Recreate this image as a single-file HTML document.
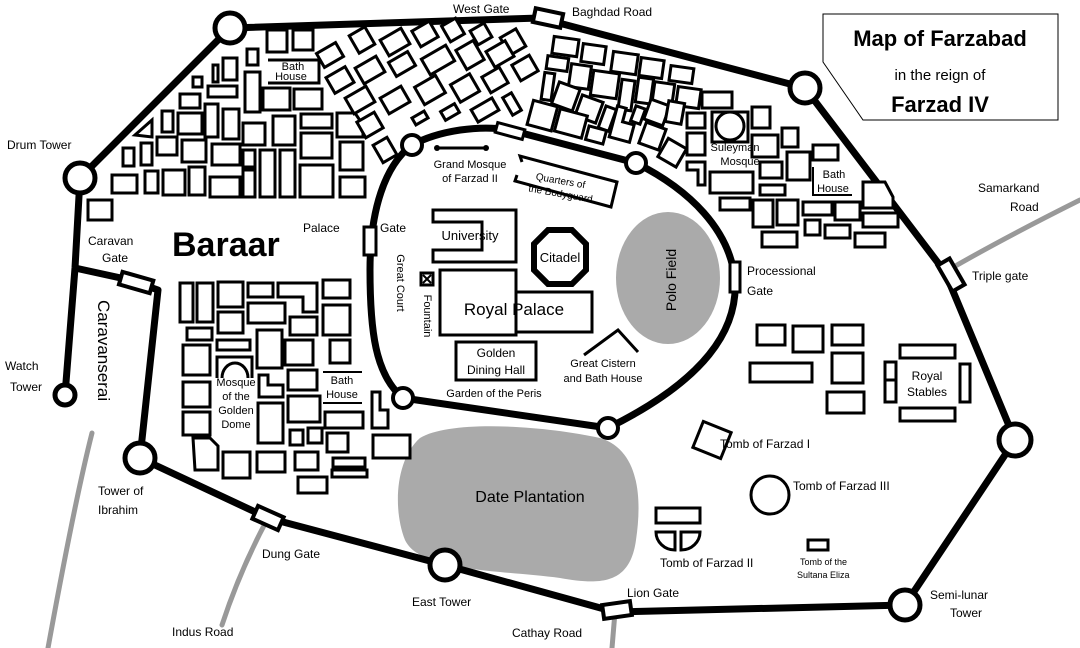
<!DOCTYPE html>
<html><head><meta charset="utf-8"><style>
html,body{margin:0;padding:0;background:#fff}
svg{display:block}
text{font-family:"Liberation Sans",sans-serif;fill:#000}
.b rect,.b path,.b polygon{fill:#fff;stroke:#000;stroke-width:3}
.s{font-size:11px}
.m{font-size:12px}
</style></head><body>
<svg width="1080" height="648" viewBox="0 0 1080 648" xmlns="http://www.w3.org/2000/svg">
<rect width="1080" height="648" fill="#fff"/>
<g stroke="#999" stroke-width="5" fill="none" stroke-linecap="round">
<path d="M945,272 Q1000,240 1080,200"/>
<path d="M268,518 Q240,570 222,625"/>
<path d="M615,612 L612,648"/>
<path d="M92,433 Q75,500 48,648"/>
</g>
<ellipse cx="668" cy="278" rx="52" ry="66" fill="#aaa"/>
<path d="M420,438 C450,420 540,425 600,438 C640,450 642,500 636,540 C630,585 600,585 560,578 C500,570 420,572 405,540 C393,510 395,460 420,438Z" fill="#aaa"/>
<path d="M823,14 H1058 V120 H863 L823,62 Z" fill="#fff" stroke="#000" stroke-width="1"/>
<text x="940" y="46" text-anchor="middle" font-size="22" font-weight="bold">Map of Farzabad</text>
<text x="940" y="80" text-anchor="middle" font-size="15">in the reign of</text>
<text x="940" y="112" text-anchor="middle" font-size="22" font-weight="bold">Farzad IV</text>
<g stroke="#000" stroke-width="7" fill="none" stroke-linejoin="round">
<path d="M80,178 L230,28 L540,18 L805,88 L945,272 L1015,440 L905,605 L615,612 L445,565 L268,518 L140,458 L158,290 L130,280 L75,268"/>
<path d="M80,178 L75,268 L65,395"/>
</g>
<g fill="#fff" stroke="#000" stroke-width="4">
<rect x="534" y="11" width="28" height="14" transform="rotate(12 548 18)"/>
<rect x="120" y="276" width="32" height="13" transform="rotate(16 136 283)"/>
<rect x="944" y="260" width="14" height="30" transform="rotate(-30 951 275)"/>
<rect x="603" y="603" width="28" height="14" transform="rotate(-8 617 610)"/>
<rect x="254" y="511" width="28" height="14" transform="rotate(24 268 518)"/>
</g>
<g fill="#fff" stroke="#000" stroke-width="5">
<circle cx="230" cy="28" r="15"/>
<circle cx="80" cy="178" r="15"/>
<circle cx="65" cy="395" r="10"/>
<circle cx="140" cy="458" r="15"/>
<circle cx="445" cy="565" r="15"/>
<circle cx="905" cy="605" r="15"/>
<circle cx="1015" cy="440" r="16"/>
<circle cx="805" cy="88" r="15"/>
</g>
<path d="M412,145 C440,130 480,125 510,130 L636,163 C690,190 730,230 735,280 C738,330 705,380 608,428 L403,398 C375,375 370,330 370,270 C370,210 385,165 412,145Z" fill="none" stroke="#000" stroke-width="7"/>
<g fill="#fff" stroke="#000" stroke-width="3">
<rect x="496" y="126" width="28" height="10" transform="rotate(15 510 131)"/>
<rect x="364" y="227" width="12" height="28"/>
<rect x="730" y="262" width="10" height="30"/>
</g>
<g fill="#fff" stroke="#000" stroke-width="4">
<circle cx="412" cy="145" r="10"/>
<circle cx="636" cy="163" r="10"/>
<circle cx="608" cy="428" r="10"/>
<circle cx="403" cy="398" r="10"/>
</g>
<g class="b">
<rect x="267" y="30" width="20" height="22"/><rect x="293" y="30" width="20" height="20"/>
<rect x="247" y="49" width="11" height="16"/><rect x="223" y="58" width="14" height="22"/>
<rect x="213" y="65" width="5" height="17"/><rect x="193" y="77" width="9" height="10"/>
<rect x="208" y="86" width="29" height="11"/><rect x="245" y="72" width="15" height="40"/>
<rect x="263" y="88" width="27" height="22"/><rect x="294" y="89" width="28" height="20"/>
<rect x="180" y="94" width="20" height="14"/><rect x="205" y="104" width="13" height="33"/>
<rect x="223" y="109" width="16" height="30"/><rect x="178" y="113" width="24" height="21"/>
<rect x="162" y="111" width="11" height="21"/><polygon points="135,135 152,120 152,137"/>
<rect x="243" y="123" width="22" height="22"/><rect x="273" y="116" width="22" height="29"/>
<rect x="301" y="114" width="31" height="14"/><polygon points="337,113 355,113 363,125 363,137 337,137"/>
<rect x="301" y="133" width="31" height="25"/><rect x="157" y="137" width="20" height="18"/>
<rect x="182" y="140" width="24" height="22"/><rect x="212" y="144" width="28" height="21"/>
<rect x="243" y="150" width="12" height="17"/><rect x="141" y="143" width="11" height="22"/>
<rect x="123" y="148" width="11" height="18"/><rect x="260" y="150" width="15" height="47"/>
<rect x="280" y="150" width="15" height="47"/><rect x="300" y="165" width="33" height="32"/>
<rect x="340" y="142" width="23" height="28"/><rect x="340" y="177" width="25" height="20"/>
<rect x="112" y="175" width="25" height="18"/><rect x="145" y="171" width="13" height="22"/>
<rect x="163" y="170" width="22" height="25"/><rect x="189" y="167" width="16" height="28"/>
<rect x="210" y="177" width="30" height="20"/><rect x="243" y="170" width="12" height="27"/>
<rect x="88" y="200" width="24" height="20"/>
</g>
<path d="M268,60 H319 V83 H268" fill="none" stroke="#000" stroke-width="3"/>
<text x="293" y="70" text-anchor="middle" class="s">Bath</text>
<text x="291" y="80" text-anchor="middle" class="s">House</text>
<g class="b">
<rect x="-11" y="-8" width="22" height="16" transform="translate(330,55) rotate(-30)"/>
<rect x="-9" y="-10" width="18" height="20" transform="translate(362,40) rotate(-30)"/>
<rect x="-12" y="-9" width="24" height="18" transform="translate(395,42) rotate(-30)"/>
<rect x="-10" y="-9" width="20" height="18" transform="translate(425,34) rotate(-30)"/>
<rect x="-8" y="-9" width="16" height="18" transform="translate(453,30) rotate(-30)"/>
<rect x="-8" y="-8" width="16" height="16" transform="translate(481,34) rotate(-30)"/>
<rect x="-9" y="-10" width="18" height="20" transform="translate(513,42) rotate(-30)"/>
<rect x="-11" y="-9" width="22" height="18" transform="translate(340,80) rotate(-30)"/>
<rect x="-12" y="-9" width="24" height="18" transform="translate(370,70) rotate(-30)"/>
<rect x="-11" y="-8" width="22" height="16" transform="translate(402,64) rotate(-30)"/>
<rect x="-14" y="-9" width="28" height="18" transform="translate(438,60) rotate(-30)"/>
<rect x="-10" y="-11" width="20" height="22" transform="translate(470,55) rotate(-30)"/>
<rect x="-11" y="-9" width="22" height="18" transform="translate(500,54) rotate(-30)"/>
<rect x="-10" y="-9" width="20" height="18" transform="translate(525,68) rotate(-30)"/>
<rect x="-12" y="-9" width="24" height="18" transform="translate(360,100) rotate(-30)"/>
<rect x="-12" y="-9" width="24" height="18" transform="translate(395,100) rotate(-30)"/>
<rect x="-12" y="-10" width="24" height="20" transform="translate(430,90) rotate(-30)"/>
<rect x="-11" y="-10" width="22" height="20" transform="translate(465,88) rotate(-30)"/>
<rect x="-10" y="-9" width="20" height="18" transform="translate(495,80) rotate(-30)"/>
<rect x="-10" y="-9" width="20" height="18" transform="translate(370,125) rotate(-30)"/>
<rect x="-7" y="-4" width="14" height="8" transform="translate(420,118) rotate(-30)"/>
<rect x="-8" y="-5" width="16" height="10" transform="translate(450,112) rotate(-30)"/>
<rect x="-12" y="-7" width="24" height="14" transform="translate(485,110) rotate(-30)"/>
<rect x="-5" y="-10" width="10" height="20" transform="translate(512,104) rotate(-30)"/>
<rect x="-8" y="-10" width="16" height="20" transform="translate(385,150) rotate(-30)"/>
</g>
<g class="b">
<rect x="553" y="38" width="25" height="17" transform="rotate(8 565 46)"/>
<rect x="582" y="45" width="23" height="18" transform="rotate(8 593 54)"/>
<rect x="612" y="53" width="25" height="20" transform="rotate(8 624 63)"/>
<rect x="640" y="59" width="23" height="18" transform="rotate(8 651 68)"/>
<rect x="670" y="67" width="23" height="15" transform="rotate(8 681 74)"/>
<rect x="547" y="57" width="21" height="13" transform="rotate(8 557 63)"/>
<rect x="570" y="65" width="20" height="23" transform="rotate(8 580 76)"/>
<rect x="592" y="72" width="26" height="25" transform="rotate(8 605 84)"/>
<rect x="620" y="80" width="13" height="30" transform="rotate(8 626 95)"/>
<rect x="637" y="78" width="15" height="25" transform="rotate(8 644 90)"/>
<rect x="653" y="83" width="20" height="27" transform="rotate(8 663 96)"/>
<rect x="677" y="88" width="23" height="19" transform="rotate(8 688 97)"/>
<rect x="702" y="92" width="30" height="16"/>
<rect x="543" y="73" width="10" height="27" transform="rotate(8 548 86)"/>
<rect x="555" y="85" width="22" height="23" transform="rotate(20 566 96)"/>
<rect x="578" y="98" width="22" height="22" transform="rotate(20 589 109)"/>
<rect x="602" y="107" width="11" height="23" transform="rotate(20 607 118)"/>
<path d="M613,108 H622 V122 H634 V140 H613Z" transform="rotate(15 623 124)"/>
<rect x="633" y="107" width="10" height="16" transform="rotate(20 638 115)"/>
<rect x="647" y="102" width="20" height="21" transform="rotate(20 657 112)"/>
<rect x="667" y="102" width="16" height="21" transform="rotate(10 675 112)"/>
<rect x="530" y="103" width="25" height="25" transform="rotate(15 542 115)"/>
<rect x="557" y="112" width="28" height="23" transform="rotate(15 571 123)"/>
<rect x="587" y="128" width="18" height="14" transform="rotate(15 596 135)"/>
<rect x="642" y="125" width="21" height="22" transform="rotate(20 652 136)"/>
<rect x="662" y="142" width="21" height="21" transform="rotate(30 672 152)"/>
<rect x="687" y="113" width="18" height="15"/>
<rect x="712" y="112" width="36" height="30"/>
<rect x="752" y="107" width="18" height="21"/>
<rect x="687" y="133" width="18" height="22"/>
<rect x="752" y="135" width="26" height="22"/>
<rect x="782" y="128" width="16" height="19"/>
<path d="M687,162 H705 V185 H698 V170 H687Z"/>
<rect x="710" y="172" width="43" height="21"/>
<rect x="760" y="162" width="22" height="16"/>
<rect x="787" y="152" width="23" height="28"/>
<rect x="813" y="145" width="25" height="15"/>
<rect x="760" y="185" width="25" height="10"/>
<rect x="720" y="198" width="30" height="12"/>
<rect x="753" y="200" width="20" height="27"/>
<rect x="777" y="200" width="21" height="25"/>
<rect x="803" y="202" width="29" height="13"/>
<rect x="835" y="202" width="25" height="18"/>
<polygon points="863,182 885,182 893,197 893,208 863,208"/>
<rect x="805" y="220" width="15" height="15"/>
<rect x="825" y="225" width="25" height="13"/>
<rect x="863" y="213" width="35" height="14"/>
<rect x="762" y="232" width="35" height="15"/>
<rect x="855" y="233" width="30" height="14"/>
</g>
<circle cx="730" cy="126" r="14" fill="#fff" stroke="#000" stroke-width="3"/>
<text x="735" y="151" text-anchor="middle" class="s">Suleyman</text>
<text x="740" y="165" text-anchor="middle" class="s">Mosque</text>
<path d="M813,167 V195 H852" fill="none" stroke="#000" stroke-width="2"/>
<text x="834" y="178" text-anchor="middle" class="s">Bath</text>
<text x="833" y="192" text-anchor="middle" class="s">House</text>
<g class="b">
<rect x="180" y="283" width="13" height="39"/><rect x="197" y="283" width="16" height="39"/>
<rect x="218" y="282" width="25" height="25"/><rect x="248" y="283" width="25" height="14"/>
<path d="M278,283 H317 V312 H303 V297 H278Z"/><rect x="323" y="280" width="27" height="18"/>
<rect x="248" y="303" width="37" height="20"/><rect x="218" y="312" width="25" height="21"/>
<rect x="290" y="317" width="27" height="18"/><rect x="323" y="305" width="27" height="30"/>
<rect x="187" y="328" width="25" height="12"/><rect x="217" y="340" width="33" height="10"/>
<rect x="257" y="330" width="25" height="38"/><rect x="285" y="340" width="28" height="25"/>
<rect x="330" y="340" width="20" height="23"/><rect x="183" y="345" width="27" height="30"/>
<path d="M259,375 H268 V385 H283 V397 H259Z"/><rect x="288" y="370" width="29" height="20"/>
<rect x="183" y="382" width="27" height="25"/><path d="M372,392 H380 V410 H388 V428 H372Z"/>
<rect x="258" y="403" width="25" height="40"/><rect x="288" y="396" width="32" height="26"/>
<rect x="325" y="412" width="38" height="16"/><rect x="183" y="412" width="27" height="23"/>
<rect x="290" y="430" width="13" height="15"/><rect x="308" y="428" width="14" height="15"/>
<rect x="327" y="433" width="21" height="19"/><rect x="373" y="435" width="37" height="23"/>
<polygon points="193,438 210,438 218,446 218,470 195,470"/>
<rect x="223" y="452" width="27" height="26"/><rect x="257" y="452" width="28" height="20"/>
<rect x="295" y="452" width="23" height="18"/><rect x="333" y="458" width="32" height="9"/>
<rect x="332" y="470" width="35" height="7"/><rect x="298" y="477" width="29" height="16"/>
</g>
<path d="M217,378 V357 H252 V378 M222,378 A13,15 0 0 1 248,378" fill="#fff" stroke="#000" stroke-width="3"/>
<path d="M323,372 H362 M323,403 H362" stroke="#000" stroke-width="2"/>
<text x="342" y="384" text-anchor="middle" class="s">Bath</text>
<text x="342" y="398" text-anchor="middle" class="s">House</text>
<text x="236" y="386" text-anchor="middle" class="s">Mosque</text>
<text x="236" y="400" text-anchor="middle" class="s">of the</text>
<text x="236" y="414" text-anchor="middle" class="s">Golden</text>
<text x="236" y="428" text-anchor="middle" class="s">Dome</text>
<g fill="none" stroke="#000" stroke-width="3">
<line x1="437" y1="148" x2="486" y2="148"/>
<path d="M433,210 H516 V262 H433 V250 H482 V222 H433Z" fill="#fff"/>
<path d="M440,270 H516 V292 H592 V332 H516 V335 H440Z" fill="#fff"/>
<line x1="516" y1="292" x2="516" y2="332"/>
<rect x="456" y="342" width="80" height="38" fill="#fff"/>
<path d="M584,355 L618,330 L638,352"/>
<path d="M522,162 L520,156 L617,182 L611,207 L515,181 L517,175" fill="none"/>
</g>
<circle cx="437" cy="148" r="3" fill="#000"/><circle cx="486" cy="148" r="3" fill="#000"/>
<polygon points="548,230 572,230 586,244 586,270 572,284 548,284 534,270 534,244" fill="#fff" stroke="#000" stroke-width="6"/>
<rect x="421" y="273" width="12" height="12" fill="#fff" stroke="#000" stroke-width="3"/>
<path d="M423,275 L431,283 M431,275 L423,283" stroke="#000" stroke-width="2"/>
<text x="470" y="168" text-anchor="middle" class="s">Grand Mosque</text>
<text x="470" y="182" text-anchor="middle" class="s">of Farzad II</text>
<text x="560" y="184" text-anchor="middle" font-size="10" transform="rotate(10 560 184)">Quarters of</text>
<text x="560" y="197" text-anchor="middle" font-size="10" transform="rotate(10 560 197)">the Bodyguard</text>
<text x="470" y="240" text-anchor="middle" font-size="13">University</text>
<text x="560" y="262" text-anchor="middle" font-size="13">Citadel</text>
<text x="514" y="315" text-anchor="middle" font-size="17">Royal Palace</text>
<text x="496" y="357" text-anchor="middle" class="m">Golden</text>
<text x="496" y="374" text-anchor="middle" class="m">Dining Hall</text>
<text x="603" y="367" text-anchor="middle" class="s">Great Cistern</text>
<text x="603" y="382" text-anchor="middle" class="s">and Bath House</text>
<text x="494" y="397" text-anchor="middle" class="s">Garden of the Peris</text>
<text x="676" y="280" text-anchor="middle" font-size="14" transform="rotate(-90 676 280)">Polo Field</text>
<text x="397" y="283" text-anchor="middle" class="s" transform="rotate(90 397 283)">Great Court</text>
<text x="424" y="316" text-anchor="middle" class="s" transform="rotate(90 424 316)">Fountain</text>
<text x="530" y="502" text-anchor="middle" font-size="16">Date Plantation</text>
<g class="b">
<rect x="757" y="325" width="28" height="20"/><rect x="793" y="326" width="30" height="26"/>
<rect x="832" y="325" width="31" height="20"/><rect x="750" y="363" width="62" height="19"/>
<rect x="832" y="353" width="31" height="30"/><rect x="827" y="392" width="37" height="21"/>
<rect x="900" y="345" width="55" height="13"/><rect x="900" y="408" width="55" height="13"/>
<rect x="885" y="362" width="11" height="40"/><rect x="960" y="364" width="10" height="38"/>
<rect x="-15" y="-14" width="30" height="28" transform="translate(712,440) rotate(22)"/>
<rect x="656" y="508" width="44" height="15"/>
<rect x="808" y="540" width="20" height="10"/>
</g>
<line x1="885" y1="380" x2="896" y2="380" stroke="#000" stroke-width="3"/>
<circle cx="770" cy="495" r="19" fill="#fff" stroke="#000" stroke-width="3"/>
<path d="M656,532 H675 V550 A19,18 0 0 1 656,532Z M681,532 H700 A19,18 0 0 1 681,550Z" fill="#fff" stroke="#000" stroke-width="3"/>
<text x="927" y="380" text-anchor="middle" class="m">Royal</text>
<text x="927" y="396" text-anchor="middle" class="m">Stables</text>
<text x="720" y="448" class="m">Tomb of Farzad I</text>
<text x="793" y="490" class="m">Tomb of Farzad III</text>
<text x="660" y="567" class="m">Tomb of Farzad II</text>
<text x="800" y="565" font-size="9">Tomb of the</text>
<text x="797" y="578" font-size="9">Sultana Eliza</text>
<text x="453" y="13" class="m">West Gate</text>
<text x="572" y="16" class="m">Baghdad Road</text>
<text x="7" y="149" class="m">Drum Tower</text>
<text x="88" y="245" class="m">Caravan</text>
<text x="102" y="262" class="m">Gate</text>
<text x="5" y="370" class="m">Watch</text>
<text x="10" y="391" class="m">Tower</text>
<text x="98" y="495" class="m">Tower of</text>
<text x="98" y="514" class="m">Ibrahim</text>
<text x="262" y="558" class="m">Dung Gate</text>
<text x="172" y="636" class="m">Indus Road</text>
<text x="412" y="606" class="m">East Tower</text>
<text x="512" y="637" class="m">Cathay Road</text>
<text x="627" y="597" class="m">Lion Gate</text>
<text x="930" y="599" class="m">Semi-lunar</text>
<text x="950" y="617" class="m">Tower</text>
<text x="972" y="280" class="m">Triple gate</text>
<text x="978" y="192" class="m">Samarkand</text>
<text x="1010" y="211" class="m">Road</text>
<text x="747" y="275" class="m">Processional</text>
<text x="747" y="295" class="m">Gate</text>
<text x="303" y="232" class="m">Palace</text>
<text x="380" y="232" class="m">Gate</text>
<text x="172" y="256" font-size="34" font-weight="bold" font-family="Liberation Serif, serif">Baraar</text>
<text x="98" y="300" font-size="17" transform="rotate(90 98 300)">Caravanserai</text>
</svg>
</body></html>
